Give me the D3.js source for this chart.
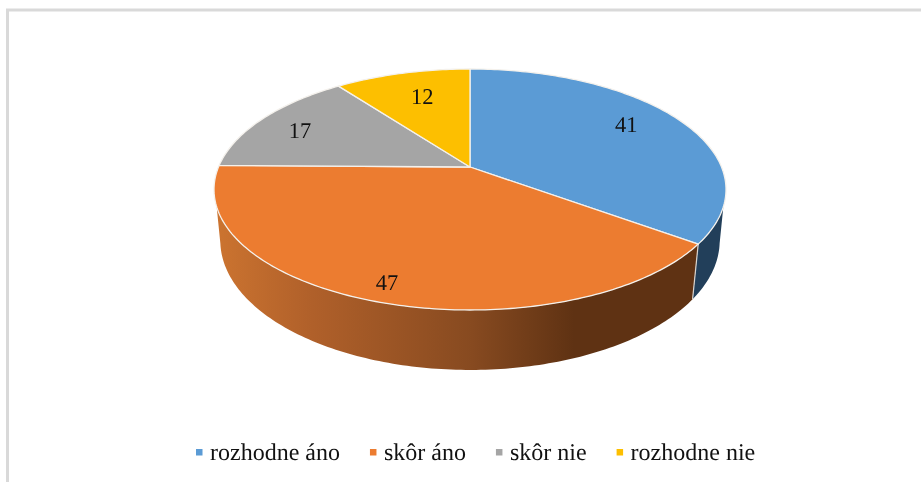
<!DOCTYPE html>
<meta charset="utf-8">
<style>
  html, body { margin: 0; background: #fff; }
  svg { display: block; filter: blur(0.35px); }
  text { font-family: "Liberation Serif", serif; font-size: 22.5px; fill: #111; text-rendering: geometricPrecision; }
</style>

<svg width="921" height="482"></svg>

<script src="https://d3js.org/d3.v7.min.js"></script>

<script>

var categories = ["rozhodne áno", "skôr áno", "skôr nie", "rozhodne nie"];
var values = [41, 47, 17, 12];
var colors = ["#5b9bd5", "#ec7c30", "#a5a5a5", "#fdbf00"];

var svg = d3.select("svg");

// chart frame, only left and top show in the crop
svg.append("path")
    .attr("d", "M7.5,482V10H921")
    .attr("fill", "none")
    .attr("stroke", "#d9d9d9")
    .attr("stroke-width", 3);

var pie = d3.pie().sort(null);
var arcs = pie(values);

// the pie is a tilted disc seen in perspective, so the centre sits above the middle of the ellipse
var topRing = { cx: 470, cy: 167, a: 251.5, b: 116.3, k: 0.1867 };
var bottomRing = { cx: 470, cy: 216.5, a: 245.3, b: 124.8, k: 0.1867 };

function project(ring, angle, f) {
  var d = 1 + ring.k * f * Math.cos(angle);
  return [ring.cx + ring.a * f * Math.sin(angle) / d,
          ring.cy - ring.b * f * Math.cos(angle) / d];
}

function arcPoints(ring, a0, a1) {
  var n = Math.ceil(Math.abs(a1 - a0) * 60) + 1;
  return d3.range(n + 1).map(function(i) {
    return project(ring, a0 + (a1 - a0) * i / n, 1);
  });
}

var line = d3.line();

// side wall, only the front part of the disc is visible
// the silhouette touches each ring at a different angle
var rad = Math.PI / 180;
var topStart = 108.8 * rad, topEnd = 251.2 * rad,
    bottomStart = 102 * rad, bottomEnd = 258 * rad;

var defs = svg.append("defs");
var grad = defs.append("linearGradient")
    .attr("id", "orangeSide")
    .attr("gradientUnits", "userSpaceOnUse")
    .attr("x1", 215).attr("y1", 0)
    .attr("x2", 700).attr("y2", 0);
[[0, "#cc7430"], [0.2, "#b0602a"], [0.53, "#874a20"], [0.74, "#5f3213"], [1, "#5f3213"]].forEach(function(s) {
  grad.append("stop").attr("offset", s[0]).attr("stop-color", s[1]);
});

var sideFills = ["#223f5a", "url(#orangeSide)"];

arcs.forEach(function(d, i) {
  if (d.endAngle <= topStart || d.startAngle >= topEnd) return;
  var pts = arcPoints(topRing, Math.max(d.startAngle, topStart), Math.min(d.endAngle, topEnd))
      .concat(arcPoints(bottomRing, Math.min(d.endAngle, bottomEnd), Math.max(d.startAngle, bottomStart)));
  svg.append("path")
      .attr("class", "side")
      .attr("d", line(pts) + "Z")
      .attr("fill", sideFills[i]);
});

// light seam between the two side walls
svg.append("path")
    .attr("d", line([project(topRing, arcs[0].endAngle, 1), project(bottomRing, arcs[0].endAngle, 1)]))
    .attr("stroke", "#d9d4cf")
    .attr("stroke-width", 1.2)
    .attr("fill", "none");

// top face
svg.selectAll("path.slice")
  .data(arcs)
  .enter().append("path")
    .attr("class", "slice")
    .attr("d", function(d) {
      return line([[topRing.cx, topRing.cy]].concat(arcPoints(topRing, d.startAngle, d.endAngle))) + "Z";
    })
    .attr("fill", function(d, i) { return colors[i]; })
    .attr("stroke", "#f4f1ec")
    .attr("stroke-width", 1.3)
    .attr("stroke-linejoin", "round");

// labels: fraction of the radius and a small vertical nudge
var labelSpots = [[0.74, -6], [0.88, 1], [0.81, 3], [0.67, -4]];

svg.selectAll("text.value")
  .data(arcs)
  .enter().append("text")
    .attr("class", "value")
    .attr("text-anchor", "middle")
    .attr("dy", "0.33em")
    .attr("transform", function(d, i) {
      var p = project(topRing, (d.startAngle + d.endAngle) / 2, labelSpots[i][0]);
      return "translate(" + p[0] + "," + (p[1] + labelSpots[i][1]) + ")";
    })
    .text(function(d) { return d.value; });

// legend
var legend = svg.append("g").attr("transform", "translate(196,0)");
var lx = 0;
categories.forEach(function(name, i) {
  legend.append("rect")
      .attr("x", lx).attr("y", 449)
      .attr("width", 6.5).attr("height", 6.5)
      .attr("fill", colors[i]);
  var t = legend.append("text")
      .attr("x", lx + 14)
      .attr("y", 460)
      .style("font-size", "24px")
      .text(name);
  lx += 14 + t.node().getComputedTextLength() + 30;
});

</script>
